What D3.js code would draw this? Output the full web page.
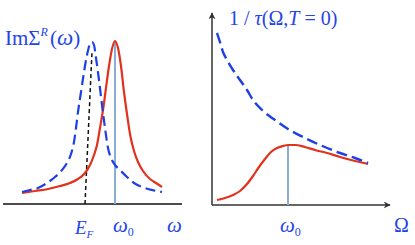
<!DOCTYPE html>
<html><head><meta charset="utf-8">
<script src="https://cdn.jsdelivr.net/npm/d3@7/dist/d3.min.js"></script>
<style>html,body{margin:0;padding:0;background:#fff;}svg{display:block;}</style>
</head><body>
<svg id="c" width="415" height="245"></svg>
<script>
// Left panel: Im Sigma^R(omega)
const leftBlue = [[19,12],[27,14],[35,16],[44,21],[52,27],[59,34],[64,41],[68,50],[71,62],[73,76],[75,92],[78,112],[81,132],[84,149],[87,160],[89,162],[91,159],[93,146],[96,124],[99,99],[102,76],[105,56],[108,46],[112,39],[117,34],[124,27],[131,21],[139,17],[149,14],[159,12]];
const leftRed = [[19,11],[32,13],[45,15],[57,18],[67,21],[75,25],[82,31],[87,39],[91,49],[94,59],[97,76],[100,94],[103,116],[106,138],[109,155],[112,163],[115,156],[118,138],[121,112],[124,90],[127,70],[131,53],[135,42],[140,33],[147,25],[153,21],[159,17]];
const fermiLine = [[82,0],[89,152]];
const omega0Left = [[112,0],[112,163]];
// Right panel: 1/tau(Omega, T=0)
const rightBlue = [[5,172],[8,163],[11,153],[15,145],[21,135],[28,125],[35,115],[41,105],[50,95],[63,85],[76,76],[91,68],[108,60],[128,52],[143,47],[156,42]];
const rightRed = [[5,5],[13,7],[21,10],[28,14],[35,21],[41,29],[47,38],[53,46],[59,53],[65,57],[71,59],[76,60],[83,60],[93,58],[103,55],[115,52],[128,48],[143,44],[156,41]];
const omega0Right = [[76,0],[76,60]];

const svg = d3.select("#c");
const BLUE = "#1f3fe6", RED = "#e2321e", LB = "#8aaed3", TXT = "#2444e8";

const xL = d3.scaleLinear().domain([0,180]).range([3,183]);
const yL = d3.scaleLinear().domain([0,200]).range([204,4]);
const xR = d3.scaleLinear().domain([0,180]).range([212,392]);
const yR = d3.scaleLinear().domain([0,200]).range([205,5]);

const defs = svg.append("defs");
defs.append("marker").attr("id","arr").attr("viewBox","0 0 10 10").attr("refX",9).attr("refY",5)
  .attr("markerWidth",7).attr("markerHeight",7).attr("markerUnits","userSpaceOnUse").attr("orient","auto")
  .append("path").attr("d","M0,0 L10,5 L0,10 L3,5 Z").attr("fill","#333");

function lineGen(x,y){ return d3.line().x(d=>x(d[0])).y(d=>y(d[1])).curve(d3.curveMonotoneX); }

// left axis
svg.append("line").attr("x1",xL(0)).attr("x2",xL(179)).attr("y1",yL(0)).attr("y2",yL(0))
  .attr("stroke","#111").attr("stroke-width",1.5);
// left lines
svg.append("path").attr("d",d3.line().x(d=>xL(d[0])).y(d=>yL(d[1]))(omega0Left)).attr("stroke",LB).attr("stroke-width",2).attr("fill","none");
svg.append("path").attr("d",d3.line().x(d=>xL(d[0])).y(d=>yL(d[1]))(fermiLine)).attr("stroke","#111").attr("stroke-width",1.5).attr("stroke-dasharray","4,3").attr("fill","none");
svg.append("path").attr("d",lineGen(xL,yL)(leftRed)).attr("stroke",RED).attr("stroke-width",2.2).attr("fill","none");
svg.append("path").attr("d",lineGen(xL,yL)(leftBlue)).attr("stroke",BLUE).attr("stroke-width",2.2).attr("stroke-dasharray","10,5").attr("fill","none");

// right axes
svg.append("line").attr("x1",xR(0)).attr("x2",xR(0)).attr("y1",yR(0)).attr("y2",yR(192))
  .attr("stroke","#333").attr("stroke-width",1.5).attr("marker-end","url(#arr)");
svg.append("line").attr("x1",xR(0)).attr("x2",xR(178)).attr("y1",yR(0)).attr("y2",yR(0))
  .attr("stroke","#333").attr("stroke-width",1.5).attr("marker-end","url(#arr)");
svg.append("path").attr("d",d3.line().x(d=>xR(d[0])).y(d=>yR(d[1]))(omega0Right)).attr("stroke",LB).attr("stroke-width",2).attr("fill","none");
svg.append("path").attr("d",lineGen(xR,yR)(rightRed)).attr("stroke",RED).attr("stroke-width",2.2).attr("fill","none");
svg.append("path").attr("d",lineGen(xR,yR)(rightBlue)).attr("stroke",BLUE).attr("stroke-width",2.4).attr("stroke-dasharray","11,5").attr("fill","none");

// text
const F = "'Liberation Serif','DejaVu Serif',serif";
function txt(x,y,size){ return svg.append("text").attr("x",x).attr("y",y).attr("font-family",F).attr("font-size",size).attr("fill",TXT); }
let t = txt(5,45,21);
t.append("tspan").text("ImΣ");
t.append("tspan").attr("font-style","italic").attr("font-size",12).attr("dy",-9).text("R");
t.append("tspan").attr("dy",9).attr("dx",2).text("(");
t.append("tspan").attr("font-style","italic").attr("font-size",23).text("ω");
t.append("tspan").text(")");

t = txt(75,234,19);
t.append("tspan").attr("font-style","italic").text("E");
t.append("tspan").attr("font-style","italic").attr("font-size",11).attr("dy",4).text("F");
t = txt(113,232,21);
t.append("tspan").attr("font-style","italic").text("ω");
t.append("tspan").attr("font-size",12).attr("dy",4).text("0");
txt(167,232,21).attr("font-style","italic").text("ω");

t = txt(229,25,20);
t.append("tspan").text("1 / ");
t.append("tspan").attr("font-style","italic").text("τ");
t.append("tspan").text("(Ω,");
t.append("tspan").attr("font-style","italic").text("T");
t.append("tspan").text(" = 0)");

t = txt(280,232,21);
t.append("tspan").attr("font-style","italic").text("ω");
t.append("tspan").attr("font-size",12).attr("dy",4).text("0");
txt(394,232,20).text("Ω");
</script>
</body></html>
